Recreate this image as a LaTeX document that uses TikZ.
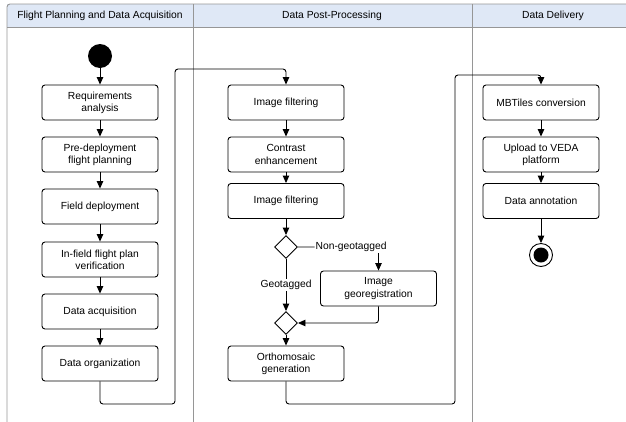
\documentclass[tikz,border=0pt]{standalone}
\usepackage{fontspec}
\setmainfont{Liberation Sans}
\usetikzlibrary{shapes.geometric,arrows.meta}

\definecolor{laneblue}{RGB}{223,232,246}
\definecolor{lanegray}{RGB}{150,150,150}

\tikzset{
  box/.style={draw, line width=0.9pt, rounded corners=3pt, minimum width=116pt,
    minimum height=35pt, inner sep=1pt, align=center,
    font=\fontsize{10.3}{12.3}\selectfont},
  decision/.style={draw, diamond, line width=0.9pt, minimum width=23pt,
    minimum height=23pt, inner sep=0pt},
  initial/.style={circle, fill=black, minimum size=24pt, inner sep=0pt},
  final/.style={circle, draw, line width=0.9pt, minimum size=23pt, inner sep=0pt},
  flow/.style={line width=0.9pt, rounded corners=3pt,
    -{Triangle[length=7.5pt,width=6.5pt]}},
  lane/.style={draw=lanegray, line width=0.9pt},
  title/.style={font=\fontsize{10.3}{12}\selectfont},
  guard/.style={fill=white, inner sep=1pt, font=\fontsize{10.3}{12}\selectfont}
}

\begin{document}
\begin{tikzpicture}[x=1pt, y=-1pt]

    \path[use as bounding box, clip] (0,0) rectangle (626,421);

    \fill[laneblue] (7,4) rectangle (640,27);

    \draw[lane, rounded corners=3pt] (640,4) -- (7,4) -- (7,430);

    \draw[lane] (7,27) -- (640,27);

    \draw[lane] (193,4) -- (193,430);

    \draw[lane] (472,4) -- (472,430);

    \node[title] (laneA) at (100,15.5) {Flight Planning and Data Acquisition};

    \node[title] (laneB) at (332,15.5) {Data Post-Processing};

    \node[title] (laneC) at (553,15.5) {Data Delivery};



    \begin{scope}

      \node[initial] (init) at (100,56) {};

      \node[box] (req) at (100,102.5) {Requirements\\analysis};

      \node[box] (plan) at (100,154.5) {Pre-deployment\\flight planning};

      \node[box] (field) at (100,206.5) {Field deployment};

      \node[box] (verify) at (100,259.5) {In-field flight plan\\verification};

      \node[box] (acq) at (100,311.5) {Data acquisition};

      \node[box] (org) at (100,363.5) {Data organization};

      \draw[flow] (init) -- (req);
      \draw[flow] (req) -- (plan);
      \draw[flow] (plan) -- (field);
      \draw[flow] (field) -- (verify);
      \draw[flow] (verify) -- (acq);
      \draw[flow] (acq) -- (org);

    \end{scope}



    \begin{scope}

      \node[box] (filterA) at (286,102.5) {Image filtering};

      \node[box] (contrast) at (286,154.5) {Contrast\\enhancement};

      \node[box] (filterB) at (286,201) {Image filtering};

      \node[decision] (geoA) at (286,247) {};

      \node[box] (georeg) at (378.5,288.5) {Image\\georegistration};

      \node[decision] (geoB) at (286,323) {};

      \node[box] (ortho) at (286,363.5) {Orthomosaic\\generation};

      \draw[flow] (filterA) -- (contrast);
      \draw[flow] (contrast) -- (filterB);
      \draw[flow] (filterB) -- (geoA);
      \draw[flow] (geoA) -| node[guard, pos=0.33] {Non-geotagged} (georeg);
      \draw[flow] (geoA) -- node[guard] {Geotagged} (geoB);
      \draw[flow] (georeg) |- (geoB);
      \draw[flow] (geoB) -- (ortho);

    \end{scope}



    \begin{scope}

      \node[box] (mbt) at (541,102.5) {MBTiles conversion};

      \node[box] (veda) at (541,154.5) {Upload to VEDA\\platform};

      \node[box] (annot) at (541,201) {Data annotation};

      \node[final] (done) at (541,255) {};
      \fill (done.center) circle (7.5pt);

      \draw[flow] (mbt) -- (veda);
      \draw[flow] (veda) -- (annot);
      \draw[flow] (annot) -- (done);

    \end{scope}



    \coordinate (backA) at (175,404);
    \coordinate (topA) at (175,69);
    \draw[flow] (org) |- (backA) -- (topA) -| (filterA);

    \coordinate (backB) at (455,404);
    \coordinate (topB) at (455,75);
    \draw[flow] (ortho) |- (backB) -- (topB) -| (mbt);

  \end{tikzpicture}
\end{document}
